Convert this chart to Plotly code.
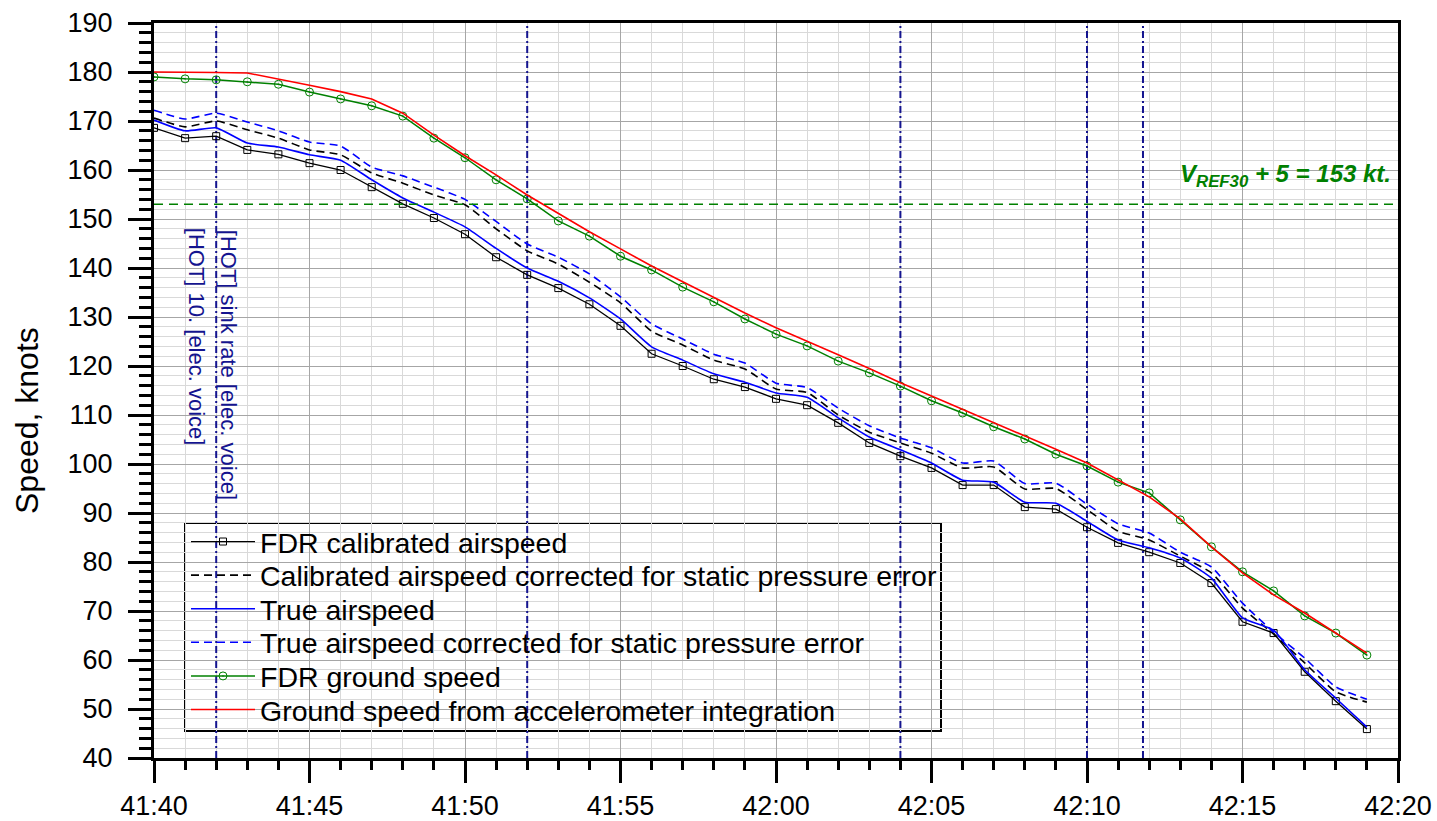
import plotly.graph_objects as go

# ---------------- data ----------------
time_labels = ["41:40", "41:41", "41:42", "41:43", "41:44", "41:45", "41:46", "41:47", "41:48", "41:49",
               "41:50", "41:51", "41:52", "41:53", "41:54", "41:55", "41:56", "41:57", "41:58", "41:59",
               "42:00", "42:01", "42:02", "42:03", "42:04", "42:05", "42:06", "42:07", "42:08", "42:09",
               "42:10", "42:11", "42:12", "42:13", "42:14", "42:15", "42:16", "42:17", "42:18", "42:19"]

fdr_cas = [168.6, 166.5, 166.9, 164.1, 163.2, 161.4, 160.0, 156.5, 153.1, 150.2,
           146.9, 142.2, 138.6, 135.9, 132.6, 128.2, 122.5, 120.0, 117.3, 115.7,
           113.3, 112.0, 108.4, 104.3, 101.6, 99.2, 95.7, 95.7, 91.2, 90.8,
           87.1, 83.9, 82.0, 79.8, 75.7, 67.8, 65.5, 57.6, 51.6, 45.9]

cas_corr = [170.6, 168.8, 170.0, 168.2, 166.5, 164.1, 163.1, 159.4, 157.3, 154.9,
            152.9, 148.0, 143.5, 140.8, 137.1, 132.9, 127.1, 124.3, 121.2, 119.4,
            115.3, 114.6, 110.0, 106.5, 104.3, 102.2, 99.2, 99.4, 94.9, 95.0,
            90.7, 86.3, 84.5, 81.2, 77.8, 70.6, 65.3, 59.4, 53.5, 51.4]

tas = [170.2, 168.0, 168.6, 165.5, 164.7, 163.1, 162.0, 158.0, 154.3, 151.4,
       148.4, 144.0, 140.0, 137.3, 133.9, 129.6, 123.9, 121.2, 118.4, 116.7,
       114.5, 113.6, 109.4, 105.5, 102.9, 100.2, 96.7, 96.3, 92.2, 92.0,
       88.3, 84.5, 82.9, 80.8, 76.7, 68.6, 66.1, 58.0, 52.2, 46.3]

tas_corr = [172.2, 170.4, 171.6, 169.8, 168.0, 165.7, 164.9, 160.6, 158.8, 156.5,
            154.0, 149.5, 144.9, 142.2, 138.8, 134.1, 128.6, 125.5, 122.4, 120.6,
            116.5, 115.6, 111.4, 107.8, 105.3, 103.3, 100.2, 100.6, 96.0, 96.1,
            91.8, 87.8, 85.9, 82.0, 79.0, 71.6, 65.7, 60.4, 54.5, 52.0]

fdr_gs = [179.0, 178.6, 178.4, 178.0, 177.5, 175.9, 174.5, 173.1, 171.0, 166.5,
          162.5, 158.0, 154.1, 149.6, 146.5, 142.4, 139.6, 136.1, 133.1, 129.6,
          126.5, 124.1, 121.0, 118.6, 115.9, 112.9, 110.4, 107.6, 105.1, 102.0,
          99.6, 96.3, 94.1, 88.6, 83.1, 78.0, 74.1, 69.0, 65.5, 61.0]

accel_gs = [180.0, 180.0, 179.9, 179.8, 178.6, 177.3, 176.0, 174.5, 171.6, 167.1,
            162.9, 159.0, 154.9, 151.1, 147.4, 143.9, 140.4, 137.2, 134.0, 130.8,
            127.8, 125.1, 122.3, 119.5, 116.6, 113.9, 111.2, 108.5, 105.8, 103.0,
            100.2, 96.8, 93.3, 88.8, 83.1, 77.8, 73.3, 69.6, 65.5, 61.4]

series_names = ["FDR calibrated airspeed",
                "Calibrated airspeed corrected for static pressure error",
                "True airspeed",
                "True airspeed corrected for static pressure error",
                "FDR ground speed",
                "Ground speed from accelerometer integration"]

tick_labels = ["41:40", "41:45", "41:50", "41:55", "42:00", "42:05", "42:10", "42:15", "42:20"]

event_times = ["41:42", "41:52", "42:04", "42:10", "42:11.8"]
event_texts = ["[HOT] 10. [elec. voice]", "[HOT] sink rate [elec. voice]"]
vref_speed = 153
vref_label = "<b><i>V<sub>REF30</sub> + 5 = 153 kt.</i></b>"
y_title = "Speed, knots"

T0 = "41:40"  # time origin of the x axis (seconds are counted from here)


def to_sec(s):
    m, sec = s.split(":")
    m0, s0 = T0.split(":")
    return (int(m) * 60 + float(sec)) - (int(m0) * 60 + float(s0))


def fmt_num(v):
    return str(int(v)) if float(v).is_integer() else str(v)


t = [to_sec(s) for s in time_labels]
tick_vals = [to_sec(s) for s in tick_labels]
ev = [to_sec(s) for s in event_times]
x0, x1 = tick_vals[0], tick_vals[-1]
y0, y1 = 40, 190
major_step = tick_vals[1] - tick_vals[0]
alias = {fmt_num(v): lab for v, lab in zip(tick_vals, tick_labels)}

FONT = "Liberation Sans, Arial, sans-serif"
NAVY = "#14148f"
GREEN = "#008000"

fig = go.Figure()

# event lines (vertical dash-dot)
evx, evy = [], []
for e in ev:
    evx += [e, e, None]
    evy += [y0, y1, None]
fig.add_trace(go.Scatter(x=evx, y=evy, mode="lines", showlegend=False, hoverinfo="skip",
                         line=dict(color=NAVY, width=2, dash="7px,3px,2px,3px")))

# VREF dashed line (drawn on the overlaid tick axis, which matches the main x axis)
fig.add_trace(go.Scatter(x=[x0, x1], y=[vref_speed, vref_speed], mode="lines", showlegend=False,
                         hoverinfo="skip", xaxis="x2", yaxis="y",
                         line=dict(color=GREEN, width=1.4, dash="9px,6px")))

legend_ids = ["legend", "legend2", "legend3", "legend4", "legend5", "legend6"]

fig.add_trace(go.Scatter(x=t, y=fdr_cas, name=series_names[0], mode="lines+markers",
                         line=dict(color="black", width=1.3),
                         marker=dict(symbol="square-open", size=7, color="black", line=dict(width=1)),
                         legend=legend_ids[0]))
fig.add_trace(go.Scatter(x=t, y=cas_corr, name=series_names[1], mode="lines",
                         line=dict(color="black", width=1.6, dash="8px,5px", shape="spline", smoothing=0.5),
                         legend=legend_ids[1]))
fig.add_trace(go.Scatter(x=t, y=tas, name=series_names[2], mode="lines",
                         line=dict(color="#0000ff", width=1.6, shape="spline", smoothing=0.5),
                         legend=legend_ids[2]))
fig.add_trace(go.Scatter(x=t, y=tas_corr, name=series_names[3], mode="lines",
                         line=dict(color="#0000ff", width=1.6, dash="8px,5px", shape="spline", smoothing=0.5),
                         legend=legend_ids[3]))
fig.add_trace(go.Scatter(x=t, y=fdr_gs, name=series_names[4], mode="lines+markers",
                         line=dict(color=GREEN, width=1.5),
                         marker=dict(symbol="circle-open-dot", size=8, color=GREEN, line=dict(width=1)),
                         legend=legend_ids[4]))
fig.add_trace(go.Scatter(x=t, y=accel_gs, name=series_names[5], mode="lines",
                         line=dict(color="#ff0000", width=1.6),
                         legend=legend_ids[5]))

# plot-area geometry in pixels (for legend placement)
W, H = 1437, 821
ML, MR, MT, MB = 154, 39, 23, 63
PW, PH = W - ML - MR, H - MT - MB


def px_x(px):
    return (px - ML) / PW


def px_y(py):
    return (H - MB - py) / PH


row0, row_step = 542, 33.6
legend_left = 186
layout_legends = {}
for i, lid in enumerate(legend_ids):
    layout_legends[lid] = dict(x=px_x(legend_left), xanchor="left",
                               y=px_y(row0 + i * row_step), yanchor="middle",
                               bgcolor="rgba(0,0,0,0)", borderwidth=0,
                               font=dict(family=FONT, size=28.5, color="black"),
                               itemwidth=64, tracegroupgap=0)

fig.update_layout(**layout_legends)

# legend frame
fig.add_shape(type="rect", xref="paper", yref="paper",
              x0=px_x(185), x1=px_x(941), y0=px_y(731), y1=px_y(523),
              fillcolor="white", line=dict(color="black", width=2), layer="between")

tickfont = dict(family=FONT, size=27, color="black")

fig.update_layout(
    xaxis=dict(range=[x0, x1], tickmode="linear", tick0=x0, dtick=major_step,
               labelalias=alias, ticks="outside", ticklen=22, tickwidth=3, tickcolor="black",
               showticklabels=True, tickfont=tickfont, layer="above traces",
               showline=True, linewidth=3, linecolor="black", mirror=True,
               showgrid=True, gridcolor="#a6a6a6", gridwidth=1, zeroline=False, automargin=False,
               minor=dict(tick0=x0, dtick=1, ticks="", showgrid=True, gridcolor="#d9d9d9", gridwidth=1)),
    # overlaid axis that only carries the tick marks (major + minor)
    xaxis2=dict(overlaying="x", matches="x", anchor="y", side="bottom",
                tickmode="linear", tick0=x0, dtick=major_step,
                ticks="outside", ticklen=22, tickwidth=3, tickcolor="black",
                showticklabels=False, showgrid=False, showline=False, zeroline=False,
                automargin=False, layer="above traces",
                minor=dict(tick0=x0, dtick=1, ticks="outside", ticklen=11, tickwidth=3,
                           tickcolor="black", showgrid=False)),
    yaxis=dict(range=[y0, y1], tickmode="linear", tick0=40, dtick=10,
               ticks="outside", ticklen=23, tickwidth=3, tickcolor="black",
               ticklabelstandoff=10, tickfont=tickfont, layer="above traces",
               showline=True, linewidth=3, linecolor="black", mirror=True,
               showgrid=True, gridcolor="#a6a6a6", gridwidth=1, zeroline=False, automargin=False,
               minor=dict(tick0=40, dtick=2, ticklen=12, tickwidth=3, tickcolor="black",
                          ticks="outside", showgrid=True, gridcolor="#d9d9d9", gridwidth=1)),
)

# y-axis title
fig.add_annotation(xref="paper", yref="paper", x=px_x(27), y=px_y(420), text=y_title,
                   showarrow=False, textangle=-90, xanchor="center", yanchor="middle",
                   font=dict(family=FONT, size=32, color="black"))

# annotations
fig.add_annotation(x=x1, y=vref_speed, xref="x", yref="y", text=vref_label, showarrow=False,
                   xanchor="right", yanchor="bottom", xshift=-5, yshift=11,
                   font=dict(family=FONT, size=24, color=GREEN))
fig.add_annotation(x=ev[0], y=y1, xref="x", yref="y", text=event_texts[0], showarrow=False,
                   textangle=90, xanchor="center", yanchor="top", xshift=-19, yshift=-203,
                   font=dict(family=FONT, size=22, color=NAVY))
fig.add_annotation(x=ev[0], y=y1, xref="x", yref="y", text=event_texts[1], showarrow=False,
                   textangle=90, xanchor="center", yanchor="top", xshift=13, yshift=-205,
                   font=dict(family=FONT, size=22, color=NAVY))

fig.update_layout(width=W, height=H, margin=dict(l=ML, r=MR, t=MT, b=MB, autoexpand=False),
                  paper_bgcolor="white", plot_bgcolor="white",
                  font=dict(family=FONT, size=28, color="black"))

fig.write_html("out.html")
